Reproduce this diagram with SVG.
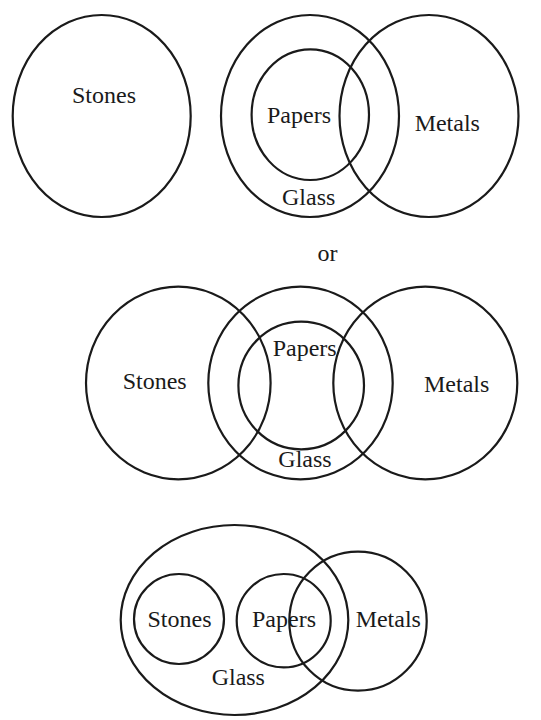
<svg xmlns="http://www.w3.org/2000/svg" width="541" height="720" viewBox="0 0 541 720">
<style>
.c{fill:none;stroke:#1a1a1a;stroke-width:2.2}
text{font-family:"Liberation Serif","Times New Roman",serif;font-size:24px;fill:#1a1a1a;text-anchor:middle}
</style>
<rect width="541" height="720" fill="#fff"/>
<g id="diagram1">
<g id="d1-stones"><ellipse class="c" cx="101.7" cy="116" rx="89" ry="101"/><text x="104" y="103">Stones</text></g>
<g id="d1-glass"><ellipse class="c" cx="310" cy="116" rx="89" ry="101"/><text x="308.7" y="205">Glass</text></g>
<g id="d1-metals"><ellipse class="c" cx="429" cy="116" rx="89.5" ry="101"/><text x="447.3" y="131">Metals</text></g>
<g id="d1-papers"><ellipse class="c" cx="310.3" cy="114.7" rx="58.7" ry="65.3"/><text x="299" y="123">Papers</text></g>
</g>
<text id="or" x="327.5" y="260.5">or</text>
<g id="diagram2">
<g id="d2-stones"><ellipse class="c" cx="178.3" cy="383" rx="92.3" ry="96.3"/><text x="154.7" y="389.3">Stones</text></g>
<g id="d2-glass"><ellipse class="c" cx="300.5" cy="383" rx="92.2" ry="96.3"/><text x="305" y="467.3">Glass</text></g>
<g id="d2-metals"><ellipse class="c" cx="425.3" cy="383" rx="92" ry="96.3"/><text x="456.7" y="391.7">Metals</text></g>
<g id="d2-papers"><ellipse class="c" cx="301.2" cy="385.5" rx="62.8" ry="63.8"/><text x="304.7" y="356">Papers</text></g>
</g>
<g id="diagram3">
<g id="d3-glass"><ellipse class="c" cx="234.5" cy="620" rx="113.8" ry="95"/><text x="238.3" y="685">Glass</text></g>
<g id="d3-stones"><ellipse class="c" cx="179" cy="619" rx="45" ry="45"/><text x="179.5" y="627.3">Stones</text></g>
<g id="d3-papers"><ellipse class="c" cx="283.7" cy="620.7" rx="47" ry="46.7"/><text x="284" y="627.3">Papers</text></g>
<g id="d3-metals"><ellipse class="c" cx="358" cy="621.2" rx="68.7" ry="69.5"/><text x="388.3" y="627">Metals</text></g>
</g>
</svg>
